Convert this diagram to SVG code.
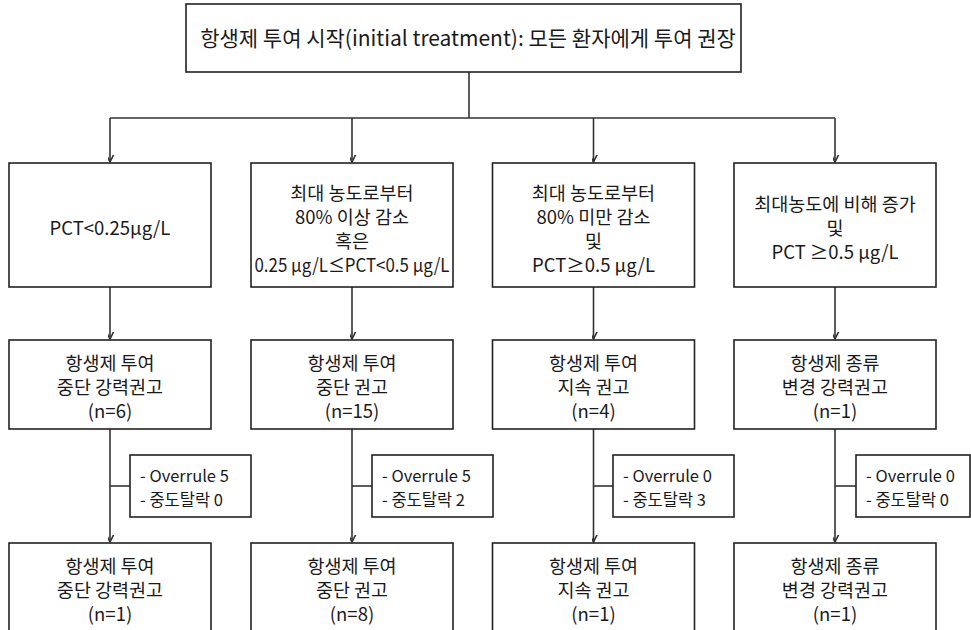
<svg xmlns="http://www.w3.org/2000/svg" width="971" height="630" viewBox="0 0 971 630">
  <style>
    .box { fill: #ffffff; stroke: #222222; stroke-width: 1.6; }
    .wire { fill: none; stroke: #333333; stroke-width: 1.6; }
    text { font-family: "Noto Sans CJK KR", "Noto Sans", sans-serif; fill: #1a1a1a; text-anchor: middle; dominant-baseline: central; }
    .t-top { font-size: 21px; }
    .t-main { font-size: 18.5px; }
    .t-note { font-size: 16.5px; text-anchor: start; }
  </style>
  <defs>
    <marker id="arrow" viewBox="-7 -12 14 14" refX="0" refY="0" markerWidth="14" markerHeight="14" markerUnits="userSpaceOnUse" orient="auto-start-reverse">
      <path d="M-5.5,-11 L0,0 L5.5,-11" fill="none" stroke="#333333" stroke-width="1.6" transform="rotate(-90)"/>
    </marker>
  </defs>

  <rect x="0" y="0" width="971" height="630" fill="#ffffff"/>

  <!-- connectors -->
  <g id="connectors">
    <polyline class="wire" points="469,72 469,118"/>
    <polyline class="wire" points="110,118 835,118"/>
    <line class="wire" x1="110" y1="118" x2="110" y2="162" marker-end="url(#arrow)"/>
    <line class="wire" x1="352" y1="118" x2="352" y2="162" marker-end="url(#arrow)"/>
    <line class="wire" x1="593.5" y1="118" x2="593.5" y2="162" marker-end="url(#arrow)"/>
    <line class="wire" x1="835" y1="118" x2="835" y2="162" marker-end="url(#arrow)"/>

    <line class="wire" x1="110" y1="287" x2="110" y2="339" marker-end="url(#arrow)"/>
    <line class="wire" x1="352" y1="287" x2="352" y2="339" marker-end="url(#arrow)"/>
    <line class="wire" x1="593.5" y1="287" x2="593.5" y2="339" marker-end="url(#arrow)"/>
    <line class="wire" x1="835" y1="287" x2="835" y2="339" marker-end="url(#arrow)"/>

    <line class="wire" x1="110" y1="429" x2="110" y2="542" marker-end="url(#arrow)"/>
    <line class="wire" x1="352" y1="429" x2="352" y2="542" marker-end="url(#arrow)"/>
    <line class="wire" x1="593.5" y1="429" x2="593.5" y2="542" marker-end="url(#arrow)"/>
    <line class="wire" x1="835" y1="429" x2="835" y2="542" marker-end="url(#arrow)"/>

    <line class="wire" x1="110" y1="486" x2="130" y2="486"/>
    <line class="wire" x1="352" y1="486" x2="372" y2="486"/>
    <line class="wire" x1="593.5" y1="486" x2="613" y2="486"/>
    <line class="wire" x1="835" y1="486" x2="856" y2="486"/>
  </g>

  <!-- start node -->
  <g id="start">
    <rect class="box" x="186" y="4" width="555" height="68"/>
    <text class="t-top" x="468" y="37">항생제 투여 시작(initial treatment): 모든 환자에게 투여 권장</text>
  </g>

  <!-- criteria row -->
  <g id="crit-1">
    <rect class="box" x="9" y="163" width="202" height="124"/>
    <text class="t-main" x="110" y="227">PCT&lt;0.25μg/L</text>
  </g>
  <g id="crit-2">
    <rect class="box" x="251" y="163" width="202" height="124"/>
    <text class="t-main" x="352" y="192">최대 농도로부터</text>
    <text class="t-main" x="352" y="216">80% 이상 감소</text>
    <text class="t-main" x="352" y="240">혹은</text>
    <text class="t-main" x="352" y="264" textLength="195" lengthAdjust="spacingAndGlyphs">0.25 μg/L≤PCT&lt;0.5 μg/L</text>
  </g>
  <g id="crit-3">
    <rect class="box" x="492.5" y="163" width="202" height="124"/>
    <text class="t-main" x="593.5" y="192">최대 농도로부터</text>
    <text class="t-main" x="593.5" y="216">80% 미만 감소</text>
    <text class="t-main" x="593.5" y="240">및</text>
    <text class="t-main" x="593.5" y="264">PCT≥0.5 μg/L</text>
  </g>
  <g id="crit-4">
    <rect class="box" x="734" y="163" width="202" height="124"/>
    <text class="t-main" x="835" y="203">최대농도에 비해 증가</text>
    <text class="t-main" x="835" y="227">및</text>
    <text class="t-main" x="835" y="251">PCT ≥0.5 μg/L</text>
  </g>

  <!-- recommendation row -->
  <g id="rec-1">
    <rect class="box" x="9" y="340" width="202" height="89"/>
    <text class="t-main" x="110" y="362">항생제 투여</text>
    <text class="t-main" x="110" y="386">중단 강력권고</text>
    <text class="t-main" x="110" y="410">(n=6)</text>
  </g>
  <g id="rec-2">
    <rect class="box" x="251" y="340" width="202" height="89"/>
    <text class="t-main" x="352" y="362">항생제 투여</text>
    <text class="t-main" x="352" y="386">중단 권고</text>
    <text class="t-main" x="352" y="410">(n=15)</text>
  </g>
  <g id="rec-3">
    <rect class="box" x="492.5" y="340" width="202" height="89"/>
    <text class="t-main" x="593.5" y="362">항생제 투여</text>
    <text class="t-main" x="593.5" y="386">지속 권고</text>
    <text class="t-main" x="593.5" y="410">(n=4)</text>
  </g>
  <g id="rec-4">
    <rect class="box" x="734" y="340" width="202" height="89"/>
    <text class="t-main" x="835" y="362">항생제 종류</text>
    <text class="t-main" x="835" y="386">변경 강력권고</text>
    <text class="t-main" x="835" y="410">(n=1)</text>
  </g>

  <!-- side notes -->
  <g id="note-1">
    <rect class="box" x="130" y="455" width="121" height="62"/>
    <text class="t-note" x="140" y="474.5">- Overrule 5</text>
    <text class="t-note" x="140" y="498.5">- 중도탈락 0</text>
  </g>
  <g id="note-2">
    <rect class="box" x="372" y="455" width="121" height="62"/>
    <text class="t-note" x="382" y="474.5">- Overrule 5</text>
    <text class="t-note" x="382" y="498.5">- 중도탈락 2</text>
  </g>
  <g id="note-3">
    <rect class="box" x="613" y="455" width="121" height="62"/>
    <text class="t-note" x="623" y="474.5">- Overrule 0</text>
    <text class="t-note" x="623" y="498.5">- 중도탈락 3</text>
  </g>
  <g id="note-4">
    <rect class="box" x="856" y="455" width="114" height="62"/>
    <text class="t-note" x="866" y="474.5">- Overrule 0</text>
    <text class="t-note" x="866" y="498.5">- 중도탈락 0</text>
  </g>

  <!-- follow-up row -->
  <g id="final-1">
    <rect class="box" x="9" y="543" width="202" height="95"/>
    <text class="t-main" x="110" y="565">항생제 투여</text>
    <text class="t-main" x="110" y="589">중단 강력권고</text>
    <text class="t-main" x="110" y="613">(n=1)</text>
  </g>
  <g id="final-2">
    <rect class="box" x="251" y="543" width="202" height="95"/>
    <text class="t-main" x="352" y="565">항생제 투여</text>
    <text class="t-main" x="352" y="589">중단 권고</text>
    <text class="t-main" x="352" y="613">(n=8)</text>
  </g>
  <g id="final-3">
    <rect class="box" x="492.5" y="543" width="202" height="95"/>
    <text class="t-main" x="593.5" y="565">항생제 투여</text>
    <text class="t-main" x="593.5" y="589">지속 권고</text>
    <text class="t-main" x="593.5" y="613">(n=1)</text>
  </g>
  <g id="final-4">
    <rect class="box" x="734" y="543" width="202" height="95"/>
    <text class="t-main" x="835" y="565">항생제 종류</text>
    <text class="t-main" x="835" y="589">변경 강력권고</text>
    <text class="t-main" x="835" y="613">(n=1)</text>
  </g>
</svg>
